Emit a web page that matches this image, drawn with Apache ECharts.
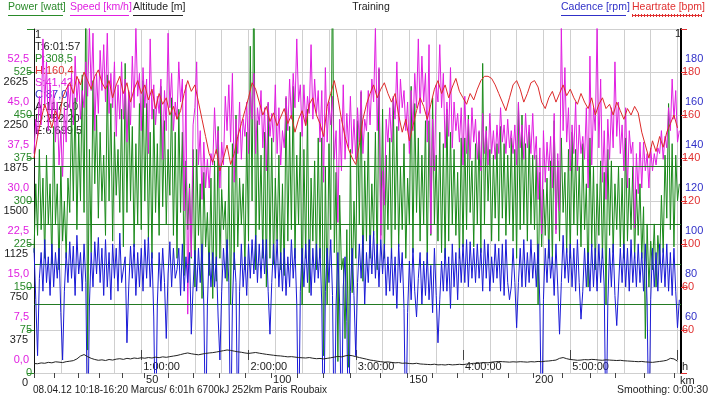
<!DOCTYPE html>
<html><head><meta charset="utf-8">
<script src="https://cdn.jsdelivr.net/npm/echarts@6/dist/echarts.min.js"></script>
<style>html,body{margin:0;padding:0;background:#fff}#c{width:712px;height:396px}</style>
</head><body><div id="c"></div>
<script>
// ---- data ----
// power, speed, cadence: one value per minute of ride time; heart rate, altitude: one value per 2 minutes
const fastStepMin = 1;
const slowStepMin = 2;
const powerW = [
210,330,240,390,250,340,200,380,260,330,
190,430,260,330,180,360,230,300,200,340,
280,460,300,480,250,420,300,520,280,660,
40,390,210,510,330,450,270,420,300,380,
240,520,300,470,230,420,310,390,280,460,
220,540,280,490,300,430,220,400,260,470,
250,510,300,470,230,420,200,460,280,400,
240,500,290,440,260,390,310,480,240,420,
200,460,280,420,170,370,250,330,200,390,
150,390,240,330,130,350,220,280,170,340,
130,370,160,430,200,320,250,300,160,360,
120,400,180,450,220,340,260,330,180,420,
230,570,300,710,180,440,250,380,200,420,
150,470,200,410,190,340,230,380,180,330,
170,480,230,430,250,500,200,380,260,420,
120,390,200,460,140,340,230,370,180,410,
200,410,30,360,120,400,250,730,210,350,
20,310,180,200,60,250,10,390,140,300,
200,440,260,490,160,370,230,420,200,330,
240,420,180,530,240,460,200,380,250,410,
200,480,250,430,220,360,250,400,200,340,
260,500,210,470,280,410,230,380,260,440,
190,440,240,480,260,380,230,420,210,400,
200,460,230,420,260,390,240,350,200,410,
220,410,250,450,280,370,220,400,260,420,
210,540,260,430,300,390,230,380,270,400,
230,430,270,400,240,380,260,410,230,390,
200,470,250,450,260,400,230,420,260,380,
250,380,120,350,220,320,240,340,200,370,
190,440,250,370,230,410,280,350,210,390,
200,420,260,390,240,360,220,400,250,330,
150,410,220,360,180,330,240,370,200,350,
120,390,240,370,210,330,250,360,220,340,
200,410,230,340,250,360,200,320,240,330,
200,290,60,260,150,230,180,260,150,240,
190,310,210,380,270,470,250,400,220,380,
300,330];
const speedKmh = [
36,42,39,46,41,56,44,52,40,48,
42,47,38,45,34,40,32,44,38,48,
44,50,41,53,45,49,42,47,44,52,
46,58,47,57,40,50,43,54,47,55,
45,57,43,50,44,52,39,48,42,52,
42,49,38,47,41,53,44,58,46,50,
40,51,44,49,36,56,42,48,41,46,
43,49,35,47,40,57,44,50,40,45,
42,52,45,49,26,48,8,30,18,41,
44,52,34,40,28,38,30,35,30,36,
34,44,36,40,30,38,34,46,40,48,
38,50,31,42,36,45,35,42,39,45,
36,47,42,50,36,44,41,47,37,44,
33,45,39,43,38,48,36,44,34,40,
37,46,40,49,42,50,44,56,45,48,
39,48,41,46,43,55,42,49,43,47,
38,47,31,51,38,45,41,46,35,40,
24,42,33,48,35,43,37,46,36,42,
35,44,38,47,36,42,40,47,41,49,
45,58,40,51,21,33,27,42,38,44,
38,46,42,52,40,49,44,47,40,45,
36,47,40,50,44,56,43,53,45,50,
38,55,22,42,33,48,45,55,44,50,
37,45,39,51,37,45,40,43,38,44,
34,46,36,42,35,44,38,42,35,40,
33,43,36,40,34,43,36,40,35,41,
36,44,38,41,36,42,37,40,36,41,
34,45,37,41,35,43,37,41,36,43,
35,39,28,37,22,40,31,38,33,39,
30,43,22,36,26,58,40,51,38,44,
33,41,36,45,33,41,36,39,35,44,
30,53,34,44,40,58,37,49,31,40,
28,42,35,44,37,52,39,45,36,41,
33,44,30,40,36,38,23,36,29,38,
30,38,33,36,30,37,33,36,34,37,
36,40,35,39,37,44,40,49,42,47,
38,40];
const cadenceRpm = [
92,68,42,78,90,72,96,76,88,70,
94,74,90,78,92,62,40,72,90,76,
95,78,93,70,98,80,90,72,94,76,
0,66,90,74,95,80,97,76,92,70,
96,74,90,68,94,78,92,72,99,76,
76,88,48,74,93,78,94,70,90,74,
92,72,96,78,97,74,90,60,0,66,
90,72,92,76,50,80,95,74,92,78,
82,92,70,94,72,88,76,90,52,74,
91,72,92,76,94,66,0,66,90,74,
90,74,88,60,40,72,92,78,96,76,
0,66,90,76,0,72,94,74,88,70,
94,78,96,80,98,76,94,78,96,80,
96,72,52,76,94,78,96,74,90,72,
92,70,88,74,96,78,92,66,0,72,
92,74,94,76,96,70,92,76,94,78,
92,66,0,72,92,76,96,70,0,66,
90,66,0,74,88,58,0,72,92,70,
42,76,94,78,98,66,90,76,98,80,
100,78,94,74,96,80,94,70,88,72,
92,70,88,64,94,76,90,64,0,62,
86,68,92,72,60,78,90,66,86,70,
90,68,84,62,92,70,48,68,86,72,
92,72,88,64,94,74,90,68,92,76,
94,76,96,74,95,78,92,76,94,78,
92,72,96,78,94,72,88,76,94,78,
92,72,94,70,96,76,68,74,92,76,
55,76,92,74,96,74,90,76,96,78,
90,74,94,66,0,68,92,76,96,78,
88,70,94,74,52,76,98,78,92,76,
94,74,92,72,96,76,59,72,92,74,
90,72,94,74,92,72,94,76,92,74,
0,66,92,74,94,70,56,74,92,76,
94,74,92,72,96,76,90,74,94,76,
90,72,94,66,0,68,92,74,90,72,
94,76,92,74,94,72,90,70,92,72,
55,68];
const heartBpm = [
140,150,158,165,160,154,162,158,168,172,
175,170,178,174,180,176,172,178,181,175,
172,176,168,174,178,170,175,166,172,176,
170,174,167,172,163,170,165,168,160,164,
158,162,170,176,171,174,166,158,150,142,
138,144,134,140,146,137,142,150,156,162,
168,175,172,166,160,164,157,161,155,159,
163,156,160,152,158,162,155,165,168,160,
156,150,164,170,176,168,158,150,144,140,
137,146,158,165,170,174,168,172,175,170,
166,170,160,152,158,148,155,162,168,164,
158,165,172,176,170,174,168,173,177,171,
168,165,170,167,172,176,178,178,177,174,
170,166,162,168,174,176,172,166,170,175,
176,173,166,163,168,171,166,170,174,169,
172,168,165,170,166,163,168,160,165,168,
163,165,160,166,162,158,163,160,164,161,
152,146,140,148,143,150,145,152,156,160,154];
const altitudeM = [
170,168,175,172,180,176,185,182,178,186,
190,195,210,235,248,230,215,205,198,202,
196,205,200,208,212,206,215,210,218,214,
220,216,222,218,225,221,228,224,230,235,
240,248,256,262,255,250,246,252,258,262,
265,270,276,282,288,284,278,272,268,262,
258,262,266,260,255,250,246,242,238,236,
232,228,230,226,222,220,218,222,216,212,
214,210,215,220,226,232,228,236,242,238,
230,222,215,208,200,196,190,186,182,184,
180,176,178,172,174,170,168,172,166,164,
162,160,164,158,160,157,162,158,160,163,
160,165,168,172,170,175,178,176,182,185,
188,186,184,182,185,183,186,184,182,186,
184,188,186,190,192,196,200,215,222,212,
205,202,198,200,204,202,206,204,200,198,
202,200,198,196,198,194,192,190,188,186,
188,184,182,180,184,188,192,198,215,210,190];
const rideMinutes = 361.95;
const kmTickKm  = [0,10,20,30,40,50,60,70,80,90,100,110,120,130,140,150,160,170,180,190,200,210,220,230,240,250];
const kmTickMin = [0,11.2,24.6,36.4,49.2,61.6,75.0,89.0,103.5,118.1,132.6,147.2,161.7,176.8,193.6,208.8,222.7,236.7,250.7,265.3,279.2,295.5,311.1,325.1,341.3,358.1];
const kmLabels = [50,100,150,200];
const speedTicks = [0,7.5,15,22.5,30,37.5,45,52.5];
const cadenceTicks = [60,80,100,120,140,160,180];
const hrTicks = [60,80,100,120,140,160,180];
const hrTickLabels = ['60','60','100','120','140','160','180'];
const powerZones = [120,190,260,360];
const statLines = [
  ['1','#222'],['T:6:01:57','#222'],['P:308,5','#2a8a2a'],['H:160,4','#e03030'],
  ['S:41,42','#e020e0'],['C:87,0','#3030c8'],['A:1179,0','#222'],['D:252,20','#222'],['E:6.699,5','#222']];

// ---- build ----
const toXY = (arr, step) => arr.map((v,i)=>[i*step, v]);
const FONT = 'Liberation Sans, Arial, sans-serif';
const C = {power:'#1a8a1a', speed:'#e01ee0', hr:'#dd2a2a', cad:'#1a1ad6', alt:'#222'};
const kmLabelMin = kmLabels.map(k => kmTickMin[kmTickKm.indexOf(k)]);

const graphics = [];
function txt(x,y,t,fill,align,size){graphics.push({type:'text',x:x,y:y,z:1,style:{text:t,fill:fill,font:(size||11)+'px '+FONT,align:align||'left',verticalAlign:'middle'}});}
function ln(x1,y1,x2,y2,stroke,w,dash){graphics.push({type:'line',z:1,shape:{x1,y1,x2,y2},style:{stroke,lineWidth:w||1,lineDash:dash||null}});}
txt(8,7,'Power [watt]','#2a8a2a','left',10.5); ln(8,15.5,63,15.5,'#2a8a2a');
txt(70,7,'Speed [km/h]','#e020e0','left',10.5); ln(70,15.5,129,15.5,'#e020e0');
txt(133,7,'Altitude [m]','#222','left',10.5); ln(133,15.5,183,15.5,'#222');
txt(371,7,'Training','#222','center',10.5);
txt(561,7,'Cadence [rpm]','#3030c8','left',10.5); ln(561,15.5,626,15.5,'#3030c8');
txt(632,7,'Heartrate [bpm]','#e03030','left',10.5); ln(632,15.5,702,15.5,'#e03030'); ln(632,15.5,702,15.5,'#e03030',3,[1,2]);
statLines.forEach((s,i)=>txt(35,35+i*12,s[0],s[1]));
txt(675,34,'1','#222');
txt(682,367,'h','#222');
txt(680,381,'km','#222');
txt(33,390,'08.04.12 10:18-16:20 Marcus/ 6:01h 6700kJ 252km Paris Roubaix','#222','left',10);
txt(708,390,'Smoothing: 0:00:30','#222','right',10.5);

const lbl = (color, margin) => ({color, fontSize:11, fontFamily:FONT, margin});
const option = {
  animation:false, backgroundColor:'#fff',
  grid:[
    {left:34, right:31, top:29, bottom:23, outerBoundsMode:'none'},
    {left:34, right:31, top:39, bottom:13, outerBoundsMode:'none'}
  ],
  xAxis:[
    {type:'value', gridIndex:0, position:'bottom', min:0, max:rideMinutes, interval:15,
     axisLine:{show:false}, axisTick:{show:false}, axisLabel:{show:false},
     splitLine:{show:true, lineStyle:{color:'#cfcfcf', width:1}}},
    {type:'value', gridIndex:0, position:'bottom', min:0, max:rideMinutes, interval:60,
     axisLine:{show:false}, splitLine:{show:false},
     axisTick:{show:true, inside:true, length:10, lineStyle:{color:'#444'}},
     axisLabel:{inside:true, margin:1, align:'left', padding:[0,0,0,2], color:'#222', fontSize:11, fontFamily:FONT,
       showMinLabel:false, showMaxLabel:false,
       formatter:v=>{const h=Math.round(v/60); return (h>0&&h<6)? h+':00:00':'';}}},
    {type:'value', gridIndex:0, position:'bottom', min:0, max:rideMinutes,
     axisLine:{show:false}, splitLine:{show:false},
     axisTick:{show:true, length:5, customValues:kmTickMin, lineStyle:{color:'#444'}},
     axisLabel:{customValues:kmLabelMin, margin:1, align:'left', padding:[0,0,0,2], color:'#222', fontSize:11, fontFamily:FONT,
       formatter:v=>{const i=kmLabelMin.findIndex(m=>Math.abs(m-v)<0.01); return i>=0? String(kmLabels[i]):'';}}},
    {type:'value', gridIndex:1, min:0, max:rideMinutes, show:false}
  ],
  yAxis:[
    {type:'value', gridIndex:0, position:'left', min:0, max:600, interval:75,
     axisLine:{show:true, lineStyle:{color:'#111', width:1}},
     axisTick:{show:true, length:7, lineStyle:{color:'#2a8a2a'}},
     axisLabel:Object.assign(lbl('#2a8a2a',2),{formatter:v=>v>=600?'':String(v)}),
     splitLine:{show:true, lineStyle:{color:'#cfcfcf'}}},
    {type:'value', gridIndex:0, position:'left', min:-2.27, max:57.73,
     axisLine:{show:false}, axisTick:{show:false}, splitLine:{show:false},
     axisLabel:Object.assign(lbl('#e020e0',5),{customValues:speedTicks, formatter:v=>v.toFixed(1).replace('.',',')})},
    {type:'value', gridIndex:0, position:'right', min:33.95, max:193.95,
     axisLine:{show:false}, axisTick:{show:false}, splitLine:{show:false},
     axisLabel:Object.assign(lbl('#3030c8',4),{customValues:cadenceTicks})},
    {type:'value', gridIndex:0, position:'right', min:40, max:200, interval:20,
     axisLine:{show:true, lineStyle:{color:'#000', width:2}},
     axisTick:{show:true, length:6, lineStyle:{color:'#e03030'}},
     splitLine:{show:false},
     axisLabel:Object.assign(lbl('#e03030',1),{customValues:hrTicks, formatter:v=>{const i=hrTicks.indexOf(Math.round(v)); return i>=0?hrTickLabels[i]:'';}})},
    {type:'value', gridIndex:1, position:'left', min:0, max:3000, interval:375,
     axisLine:{show:false}, axisTick:{show:false}, splitLine:{show:false},
     axisLabel:Object.assign(lbl('#222',6),{showMaxLabel:false, formatter:v=>v>=3000?'':String(v)})}
  ],
  series:[
    {name:'Power', type:'line', xAxisIndex:0, yAxisIndex:0, data:toXY(powerW, fastStepMin), symbol:'none', z:2,
     lineStyle:{color:C.power, width:1}, itemStyle:{color:C.power},
     markLine:{silent:true, symbol:'none', label:{show:false}, lineStyle:{color:'#237a23', width:1, type:'solid'},
       data:powerZones.map(v=>({yAxis:v}))}},
    {name:'Speed', type:'line', xAxisIndex:0, yAxisIndex:1, data:toXY(speedKmh, fastStepMin), symbol:'none', z:3,
     lineStyle:{color:C.speed, width:1}},
    {name:'Heartrate', type:'line', xAxisIndex:0, yAxisIndex:3, data:toXY(heartBpm, slowStepMin), symbol:'none', z:4,
     lineStyle:{color:C.hr, width:1}},
    {name:'Cadence', type:'line', xAxisIndex:0, yAxisIndex:2, data:toXY(cadenceRpm, fastStepMin), symbol:'none', z:5,
     lineStyle:{color:C.cad, width:1}},
    {name:'Altitude', type:'line', xAxisIndex:3, yAxisIndex:4, data:toXY(altitudeM, slowStepMin), symbol:'none', z:6,
     lineStyle:{color:C.alt, width:1}}
  ],
  graphic: graphics
};
const chart = echarts.init(document.getElementById('c'), null, {renderer:'canvas'});
chart.setOption(option);
</script>
</body></html>
